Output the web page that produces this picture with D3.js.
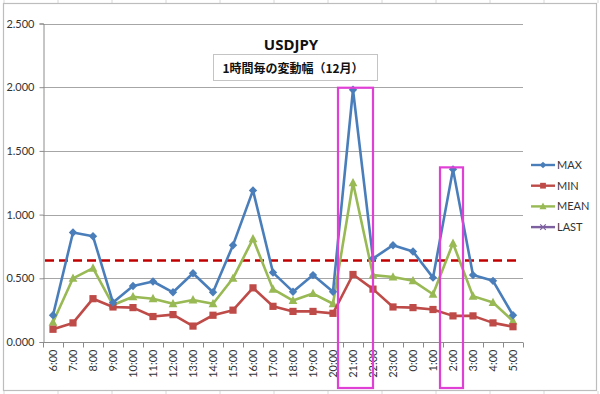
<!DOCTYPE html>
<html>
<head>
<meta charset="utf-8">
<script src="https://cdnjs.cloudflare.com/ajax/libs/d3/7.8.5/d3.min.js"></script>
<style>
  html, body { margin: 0; padding: 0; background: #fff; }
  svg { display: block; }
</style>
</head>
<body>
<div id="chart"></div>
<script>
// Données : variation par heure (USDJPY, décembre)
const hours    = ['6:00','7:00','8:00','9:00','10:00','11:00','12:00','13:00','14:00','15:00','16:00','17:00',
                  '18:00','19:00','20:00','21:00','22:00','23:00','0:00','1:00','2:00','3:00','4:00','5:00'];
const maxVals  = [0.21,0.86,0.83,0.31,0.44,0.475,0.39,0.54,0.39,0.76,1.19,0.545,
                  0.395,0.525,0.395,1.98,0.655,0.76,0.71,0.505,1.355,0.525,0.48,0.21];
const minVals  = [0.10,0.15,0.34,0.275,0.27,0.20,0.215,0.125,0.21,0.25,0.425,0.28,
                  0.24,0.24,0.225,0.53,0.415,0.275,0.27,0.255,0.205,0.205,0.15,0.12];
const meanVals = [0.155,0.50,0.58,0.29,0.355,0.34,0.30,0.33,0.30,0.50,0.81,0.415,
                  0.325,0.38,0.30,1.25,0.525,0.51,0.48,0.375,0.775,0.36,0.31,0.165];
const lastVals = [];            // LAST : seulement dans la légende
const refLevel = 0.64;          // ligne pointillée rouge
const yTicks   = [0, 0.5, 1.0, 1.5, 2.0, 2.5];
const highlighted = ['21:00', '2:00'];

const W = 600, H = 394;
const svg = d3.select('#chart').append('svg').attr('width', W).attr('height', H);

// cellules du tableur autour du graphique
const cellX = d3.range(4, W, 54);
svg.append('g').selectAll('line').data(cellX).enter().append('line')
  .attr('x1', d => d).attr('x2', d => d).attr('y1', 0).attr('y2', 3)
  .attr('stroke', '#d8d8d8');
svg.append('g').selectAll('line').data(cellX).enter().append('line')
  .attr('x1', d => d).attr('x2', d => d).attr('y1', 391).attr('y2', H)
  .attr('stroke', '#d8d8d8');

// cadre du graphique
svg.append('rect')
  .attr('x', 3.5).attr('y', 3.5).attr('width', 593).attr('height', 387)
  .attr('fill', '#fff').attr('stroke', '#bdbdbd').attr('stroke-width', 1.2);

const x = d3.scaleBand().domain(hours).range([43, 523]).padding(0);
const y = d3.scaleLinear().domain([0, 2.5]).range([342, 23.5]);
const cx = h => x(h) + x.bandwidth() / 2;

const font = 'Lato, "Liberation Sans", Arial, sans-serif';

// grille
svg.append('g').selectAll('line').data(yTicks.filter(v => v > 0)).enter().append('line')
  .attr('x1', 43).attr('x2', 523)
  .attr('y1', d => Math.round(y(d)) + 0.5).attr('y2', d => Math.round(y(d)) + 0.5)
  .attr('stroke', '#a6a6a6').attr('stroke-width', 1);

// axe Y
const yAxis = svg.append('g').attr('transform', 'translate(43.5,0)')
  .call(d3.axisLeft(y).tickValues(yTicks).tickFormat(d3.format('.3f')).tickSize(4).tickPadding(5));
yAxis.select('.domain').attr('stroke', '#8c8c8c');
yAxis.selectAll('.tick line').attr('stroke', '#8c8c8c');
yAxis.selectAll('text').attr('font-family', font).attr('font-size', 11).attr('fill', '#333');

// axe X (graduations entre les catégories)
const xg = svg.append('g').attr('transform', `translate(0,${Math.round(y(0)) + 0.5})`);
xg.append('line').attr('x1', 43).attr('x2', 523).attr('stroke', '#8c8c8c');
xg.selectAll('.tk').data(hours.concat(['_end'])).enter().append('line')
  .attr('x1', (d, i) => 43 + i * x.bandwidth() + 0.5)
  .attr('x2', (d, i) => 43 + i * x.bandwidth() + 0.5)
  .attr('y1', 0).attr('y2', 5).attr('stroke', '#8c8c8c');
xg.selectAll('text').data(hours).enter().append('text')
  .attr('transform', d => `translate(${cx(d) + 4},7) rotate(-90)`)
  .attr('text-anchor', 'end')
  .attr('font-family', font).attr('font-size', 11).attr('fill', '#333')
  .text(d => d);

// ligne pointillée
svg.append('line')
  .attr('x1', 45).attr('x2', 517)
  .attr('y1', y(refLevel)).attr('y2', y(refLevel))
  .attr('stroke', '#c00000').attr('stroke-width', 2.6).attr('stroke-dasharray', '9,5');

// marqueurs
function marker(g, type, s, color) {
  if (type === 'diamond') {
    g.append('path').attr('d', `M0,${-s}L${s},0L0,${s}L${-s},0Z`).attr('fill', color);
  } else if (type === 'square') {
    g.append('rect').attr('x', -s).attr('y', -s).attr('width', 2 * s).attr('height', 2 * s).attr('fill', color);
  } else if (type === 'triangle') {
    g.append('path').attr('d', `M0,${-s * 1.1}L${s},${s * 0.8}L${-s},${s * 0.8}Z`).attr('fill', color);
  } else if (type === 'x') {
    g.append('path').attr('d', `M${-s},${-s}L${s},${s}M${-s},${s}L${s},${-s}`)
      .attr('stroke', color).attr('stroke-width', 1.2).attr('fill', 'none');
  }
}

const series = [
  { name: 'MAX',  vals: maxVals,  color: '#4a7ebb', mk: 'diamond',  s: 4.2 },
  { name: 'MIN',  vals: minVals,  color: '#be4b48', mk: 'square',   s: 3.6 },
  { name: 'MEAN', vals: meanVals, color: '#98b954', mk: 'triangle', s: 4.4 },
  { name: 'LAST', vals: lastVals, color: '#7d60a0', mk: 'x',        s: 3.5 }
];

const line = d3.line().x((d, i) => cx(hours[i])).y(d => y(d));

// ordre de dessin : MEAN, MIN, MAX (MAX au-dessus)
[series[2], series[1], series[0]].forEach(s => {
  const g = svg.append('g');
  g.append('path').datum(s.vals).attr('d', line)
    .attr('fill', 'none').attr('stroke', s.color).attr('stroke-width', 2.6)
    .attr('stroke-linejoin', 'round');
  g.selectAll('g').data(s.vals).enter().append('g')
    .attr('transform', (d, i) => `translate(${cx(hours[i])},${y(d)})`)
    .each(function () { marker(d3.select(this), s.mk, s.s, s.color); });
});

// cadres magenta
const boxPad = { '21:00': [5, 10], '2:00': [3, 0] };
svg.append('g').selectAll('rect').data(highlighted).enter().append('rect')
  .attr('x', d => x(d) - boxPad[d][0])
  .attr('width', d => x.bandwidth() + boxPad[d][0] + boxPad[d][1])
  .attr('y', d => y(maxVals[hours.indexOf(d)]) - 2)
  .attr('height', d => 388 - y(maxVals[hours.indexOf(d)]) + 2)
  .attr('fill', 'none').attr('stroke', '#e040d6').attr('stroke-width', 2.2);

// titre
svg.append('text').attr('x', 291).attr('y', 50).attr('text-anchor', 'middle')
  .attr('font-family', '"Noto Sans", sans-serif').attr('font-weight', 'bold')
  .attr('font-size', 15).attr('fill', '#111').text('USDJPY');

svg.append('rect').attr('x', 213.5).attr('y', 54.5).attr('width', 164).attr('height', 26)
  .attr('fill', '#fff').attr('stroke', '#c4c4c4');
svg.append('text').attr('x', 293).attr('y', 73).attr('text-anchor', 'middle')
  .attr('font-family', '"Noto Sans CJK JP", sans-serif').attr('font-weight', 'bold')
  .attr('font-size', 12).attr('fill', '#111').text('1時間毎の変動幅（12月）');

// légende
const leg = svg.append('g');
series.forEach((s, i) => {
  const ly = 165 + i * 20.7;
  const g = leg.append('g').attr('transform', `translate(0,${ly})`);
  g.append('line').attr('x1', 531).attr('x2', 555).attr('stroke', s.color).attr('stroke-width', 2.4);
  const m = g.append('g').attr('transform', 'translate(543,0)');
  marker(m, s.mk, s.s * 0.8, s.color);
  g.append('text').attr('x', 557).attr('y', 4).attr('font-family', font)
    .attr('font-size', 11).attr('fill', '#333').text(s.name);
});
</script>
</body>
</html>
